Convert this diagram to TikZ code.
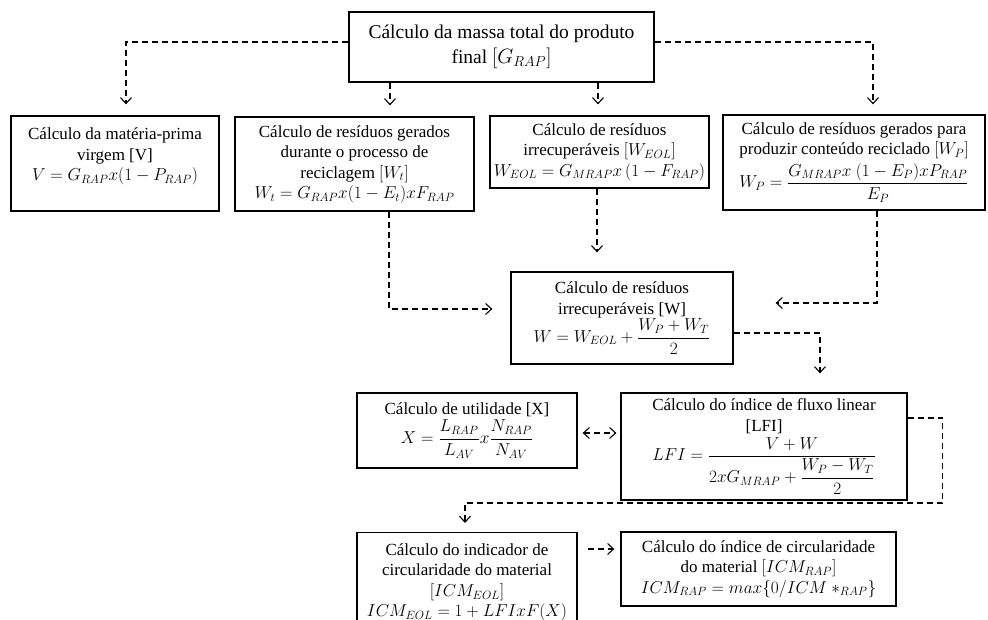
\documentclass[tikz,border=0pt]{standalone}
\usepackage{amsmath}
\usepackage{fontspec}
\setmainfont{Liberation Serif}
\usetikzlibrary{arrows.meta}

\tikzset{
  box/.style={draw=black, line width=1.3pt, inner sep=0pt, align=center,
    font={\fontsize{17}{20.5}\selectfont}},
  conn/.style={draw=black, line width=1.1pt, dash pattern=on 6pt off 4pt,
    -{Straight Barb[length=6pt,width=11pt]}},
  twoway/.style={conn, {Straight Barb[length=6pt,width=11pt]}-{Straight Barb[length=6pt,width=11pt]}},
}

\begin{document}
\begin{tikzpicture}[x=1pt,y=-1pt]
\useasboundingbox (0,0) rectangle (988,620);

% --- boxes ---
\node[box, minimum width=305pt, minimum height=70pt,
      font={\fontsize{19.5}{25}\selectfont}] (top) at (501.5,47)
  {Cálculo da massa total do produto\\ final $[G_{RAP}]$};

\node[box, minimum width=208pt, minimum height=95pt] (V) at (115,163.5)
  {\begin{minipage}[c][95pt][t]{204pt}\centering\vspace{12pt}
   Cálculo da matéria-prima\\ virgem [V]\\ $V = G_{RAP}x(1-P_{RAP})$\end{minipage}};

\node[box, minimum width=239pt, minimum height=94pt] (Wt) at (354.5,164)
  {Cálculo de resíduos gerados\\ durante o processo de\\ reciclagem $[W_t]$\\
   $W_t = G_{RAP}x(1-E_t)xF_{RAP}$};

\node[box, minimum width=219pt, minimum height=72pt] (WEOL) at (599.5,152)
  {Cálculo de resíduos\\ irrecuperáveis $[W_{EOL}]$\\
   $W_{EOL} = G_{MRAP}x\,(1-F_{RAP})$};

\node[box, minimum width=262pt, minimum height=95pt] (WP) at (854,162.5)
  {Cálculo de resíduos gerados para\\ produzir conteúdo reciclado $[W_P]$\\[3pt]
   $W_P = \dfrac{G_{MRAP}x\ (1-E_P)xP_{RAP}}{E_P}$};

\node[box, minimum width=222pt, minimum height=92pt] (W) at (622,318)
  {Cálculo de resíduos\\ irrecuperáveis [W]\\
   $W = W_{EOL} + \dfrac{W_P + W_T}{2}$};

\node[box, minimum width=220pt, minimum height=75pt] (X) at (467,430.5)
  {Cálculo de utilidade [X]\\[2pt]
   $X = \dfrac{L_{RAP}}{L_{AV}}x\dfrac{N_{RAP}}{N_{AV}}$};

\node[box, minimum width=286pt, minimum height=107pt] (LFI) at (764,446.5)
  {Cálculo do índice de fluxo linear\\ {}[LFI]\\[3pt]
   $LFI = \dfrac{V+W}{2xG_{MRAP} + \dfrac{W_P - W_T}{2}}$};

\node[box, minimum width=220pt, minimum height=110pt, anchor=north] (ICMEOL) at (467,532)
  {\begin{minipage}[c][110pt][t]{216pt}\centering\vspace{11pt}
   Cálculo do indicador de\\ circularidade do material\\ $[ICM_{EOL}]$\\
   $ICM_{EOL} = 1 + LFIxF(X)$\end{minipage}};

\node[box, minimum width=275pt, minimum height=74pt] (ICMRAP) at (758.5,569)
  {Cálculo do índice de circularidade\\ do material $[ICM_{RAP}]$\\
   $ICM_{RAP} = max\{0/ICM\ {*}_{RAP}\}$};

% --- connectors ---
\draw[conn, shorten >=11pt] ([yshift=5pt]top.west) -| ([xshift=11pt]V.north);
\draw[conn, shorten >=11pt] ([xshift=-111.5pt]top.south) -- ([xshift=-111.5pt]top.south |- Wt.north);
\draw[conn, shorten >=11pt] ([xshift=96.5pt]top.south) -- ([xshift=96.5pt]top.south |- WEOL.north);
\draw[conn, shorten >=10pt] ([yshift=5pt]top.east) -| ([xshift=19pt]WP.north);

\draw[conn, shorten >=18pt] ([xshift=34.5pt]Wt.south) |- ([yshift=9pt]W.west);
\draw[conn, shorten >=19pt] ([xshift=-2.5pt]WEOL.south) -- ([xshift=-2.5pt]WEOL.south |- W.north);
\draw[conn, shorten >=42pt] ([xshift=23pt]WP.south) |- ([yshift=15pt]W.east);
\draw[conn, shorten >=19pt] ([yshift=-15pt]W.east) -| ([xshift=56pt]LFI.north);

\draw[twoway, shorten <=5pt, shorten >=4pt] ([yshift=-2.5pt]X.east) -- ([yshift=-2.5pt]X.east -| LFI.west);

\draw[conn, shorten >=9pt] ([yshift=28.5pt]LFI.east) -- ++(35,0) -- ++(0,85)
  -| ([xshift=-2pt]ICMEOL.north);

\draw[conn, shorten <=10pt, shorten >=6pt] ([yshift=20pt]ICMRAP.west -| ICMEOL.east)
  -- ([yshift=20pt]ICMRAP.west);
\end{tikzpicture}
\end{document}
